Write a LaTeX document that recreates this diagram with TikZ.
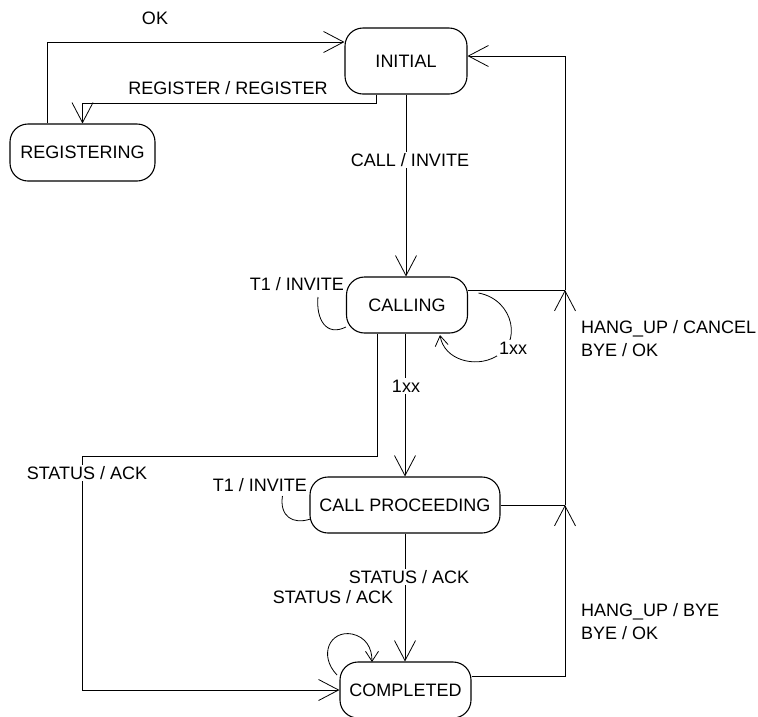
\documentclass[tikz,border=0pt]{standalone}
\usepackage{fontspec}
\setmainfont{Liberation Sans}
\usetikzlibrary{arrows.meta}
\begin{document}
\begin{tikzpicture}[x=1pt,y=-1pt,
  font=\fontsize{18}{23}\selectfont,
  state/.style={draw, rounded corners=18pt, line width=1.1pt, inner sep=0pt},
  conn/.style={line width=0.8pt},
  big/.style={-{Straight Barb[length=20pt,width=21pt]}},
  small/.style={-{Straight Barb[length=10pt,width=13pt]}},
  lbl/.style={fill=white, inner sep=1.5pt},
  txt/.style={inner sep=1pt}]
\useasboundingbox[fill=white] (0,0) rectangle (758,716);

% states
\node[state, minimum width=122pt, minimum height=66pt] (initial) at (406,61) {INITIAL};
\node[state, minimum width=145pt, minimum height=57pt] (registering) at (82.5,152.5) {REGISTERING};
\node[state, minimum width=121pt, minimum height=56pt] (calling) at (407,305) {CALLING};
\node[state, minimum width=190pt, minimum height=56pt] (callproc) at (405,505) {CALL PROCEEDING};
\node[state, minimum width=131pt, minimum height=56pt] (completed) at (405.5,690) {COMPLETED};

% junction coordinates
\coordinate (rA) at (0,103);
\coordinate (sA) at (82,456);
\coordinate (jB) at (565,290);
\coordinate (jC) at (565,505);

% OK
\draw[conn,big] ([xshift=-35.5pt]registering.north) |- ([yshift=19pt]initial.west);
\node[txt] (lok) at (155,18) {OK};

% REGISTER / REGISTER
\draw[conn,big] ([xshift=-30pt]initial.south) |- (rA -| registering.north) -- (registering.north);
\node[txt] (lreg) at (228,88) {REGISTER / REGISTER};

% CALL / INVITE
\draw[conn,big] (initial.south) -- (initial.south |- calling.north);
\node[lbl] (lcall) at (410,160) {CALL / INVITE};

% T1 / INVITE loop on CALLING
\draw[conn] ([shift={(-28pt,8pt)}]calling.west) .. controls +(-2,22) and +(-20,10) .. ([shift={(0pt,-22pt)}]calling.west);
\node[txt, anchor=east] (lt1a) at (345,284) {T1 / INVITE};

% 1xx loop on CALLING
\draw[conn,small] ([shift={(10.5pt,12pt)}]calling.east) .. controls (515,300) and (522,345) .. (495,357) .. controls (475,368) and (444,360) .. (440,335);
\node[lbl] (l1xxa) at (513,348) {1xx};

% 1xx CALLING -> CALL PROCEEDING
\draw[conn,big] (calling.south -| callproc.north) -- (callproc.north);
\node[lbl] (l1xxb) at (406,386) {1xx};

% STATUS / ACK from CALLING to COMPLETED
\draw[conn,big] ([xshift=-30pt]calling.south) |- (sA) |- (completed.west);
\node[lbl] (lsta) at (87,473) {STATUS / ACK};

% T1 / INVITE loop on CALL PROCEEDING
\draw[conn] ([shift={(-27pt,9pt)}]callproc.west) .. controls +(-3,20) and +(-18,6) .. ([shift={(1pt,-14pt)}]callproc.west);
\node[txt, anchor=east] (lt1b) at (308,485) {T1 / INVITE};

% STATUS / ACK CALL PROCEEDING -> COMPLETED
\draw[conn,big] (callproc.south) -- (callproc.south |- completed.north);
\node[lbl] (lstb) at (409,577) {STATUS / ACK};

% STATUS / ACK loop on COMPLETED
\draw[conn,small] (337,675) .. controls (318,655) and (330,630) .. (352,634) .. controls (366,637) and (372,648) .. (372,662);
\node[txt] (lstc) at (333,597) {STATUS / ACK};

% right side returns to INITIAL
\draw[conn] ([yshift=15pt]calling.east) -- (jB);
\draw[conn] (callproc.east) -- (jC);
\draw[conn,big] ([yshift=14pt]completed.east) -| (jC);
\draw[conn,big] (jC) -- (jB);
\draw[conn,big] (jB) |- ([yshift=5pt]initial.east);
\node[txt, anchor=west, align=left] (lhang1) at (580,338.5) {HANG\_UP / CANCEL\\BYE / OK};
\node[txt, anchor=west, align=left] (lhang2) at (580,621.5) {HANG\_UP / BYE\\BYE / OK};
\end{tikzpicture}
\end{document}
